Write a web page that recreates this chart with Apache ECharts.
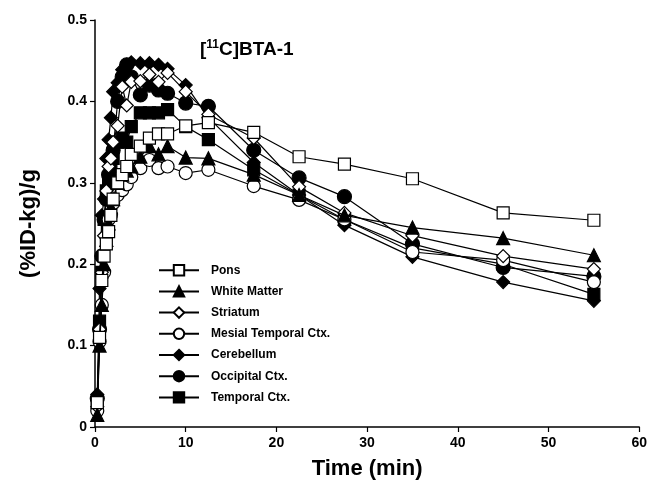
<!DOCTYPE html>
<html>
<head>
<meta charset="utf-8">
<script src="https://cdn.jsdelivr.net/npm/echarts@6/dist/echarts.min.js"></script>
<style>
  html, body { margin: 0; padding: 0; background: #fff; }
  #chart { width: 650px; height: 490px; }
</style>
</head>
<body>
<div id="chart"></div>
<script>
// sampling times (min)
var times = [0.25, 0.5, 0.75, 1, 1.25, 1.5, 1.75, 2, 2.5, 3, 3.5, 4, 5, 6, 7, 8, 10, 12.5, 17.5, 22.5, 27.5, 35, 45, 55];

var pons      = [0.03, 0.11, 0.18, 0.21, 0.225, 0.24, 0.26, 0.28, 0.30, 0.31, 0.32, 0.335, 0.345, 0.355, 0.36, 0.36, 0.37, 0.374, 0.362, 0.332, 0.323, 0.305, 0.263, 0.254];
var whiteMatter = [0.015, 0.10, 0.15, 0.20, 0.23, 0.25, 0.27, 0.28, 0.30, 0.31, 0.315, 0.32, 0.332, 0.345, 0.335, 0.345, 0.331, 0.33, 0.31, 0.285, 0.26, 0.245, 0.232, 0.211];
var striatum  = [0.025, 0.12, 0.19, 0.235, 0.29, 0.32, 0.33, 0.35, 0.37, 0.418, 0.395, 0.424, 0.425, 0.433, 0.424, 0.435, 0.412, 0.384, 0.355, 0.295, 0.263, 0.235, 0.21, 0.194];
var mesial    = [0.02, 0.105, 0.15, 0.19, 0.234, 0.255, 0.26, 0.275, 0.285, 0.291, 0.298, 0.307, 0.318, 0.328, 0.318, 0.32, 0.312, 0.316, 0.296, 0.279, 0.255, 0.215, 0.205, 0.178];
var cerebellum = [0.04, 0.17, 0.26, 0.28, 0.33, 0.353, 0.38, 0.412, 0.423, 0.439, 0.445, 0.448, 0.447, 0.447, 0.445, 0.44, 0.42, 0.38, 0.325, 0.285, 0.248, 0.209, 0.178, 0.155];
var occipital = [0.035, 0.12, 0.21, 0.255, 0.28, 0.31, 0.33, 0.34, 0.40, 0.43, 0.445, 0.43, 0.408, 0.42, 0.414, 0.41, 0.398, 0.394, 0.34, 0.306, 0.283, 0.225, 0.196, 0.185];
var temporal  = [0.03, 0.13, 0.19, 0.255, 0.29, 0.30, 0.32, 0.33, 0.35, 0.355, 0.35, 0.369, 0.386, 0.386, 0.386, 0.39, 0.369, 0.353, 0.316, 0.285, 0.255, 0.22, 0.2, 0.163];

var xTicks = [0, 10, 20, 30, 40, 50, 60];
var yTicks = [0, 0.1, 0.2, 0.3, 0.4, 0.5];

var names = ['Pons', 'White Matter', 'Striatum', 'Mesial Temporal Ctx.', 'Cerebellum', 'Occipital Ctx.', 'Temporal Ctx.'];
var values = [pons, whiteMatter, striatum, mesial, cerebellum, occipital, temporal];
var symbols = ['rect', 'triangle', 'diamond', 'circle', 'diamond', 'circle', 'rect'];
var filled = [false, true, false, false, true, true, true];
var sizes = [12, 13, 13, 13, 13, 14, 12];

function pairs(v) {
    var res = [];
    for (var i = 0; i < times.length; i++) {
        res.push([times[i], v[i]]);
    }
    return res;
}

var series = [];
for (var i = 0; i < names.length; i++) {
    series.push({
        name: names[i],
        type: 'line',
        data: pairs(values[i]),
        symbol: symbols[i],
        symbolSize: sizes[i],
        showAllSymbol: true,
        lineStyle: { color: '#000', width: 1.2 },
        itemStyle: {
            color: filled[i] ? '#000' : '#fff',
            borderColor: '#000',
            borderWidth: 1.2
        },
        z: 10 - i
    });
}

var axisFont = { color: '#000', fontFamily: 'Liberation Sans', fontWeight: 'bold', fontSize: 14 };

var chart = echarts.init(document.getElementById('chart'));
chart.setOption({
    animation: false,
    grid: { left: 95, right: 6, top: 20, bottom: 63 },
    title: {
        text: '[{sup|11}C]BTA-1',
        left: 195,
        top: 34,
        textStyle: {
            color: '#000', fontFamily: 'Liberation Sans', fontWeight: 'bold', fontSize: 19,
            rich: {
                sup: { color: '#000', fontFamily: 'Liberation Sans', fontWeight: 'bold', fontSize: 12, verticalAlign: 'top', padding: [0, 0, 9, 0] }
            }
        }
    },
    legend: {
        orient: 'vertical',
        left: 153,
        top: 259,
        itemWidth: 40,
        itemHeight: 13,
        itemGap: 8.8,
        data: names,
        textStyle: { color: '#000', fontFamily: 'Liberation Sans', fontWeight: 'bold', fontSize: 12, padding: [0, 0, 0, 7] }
    },
    xAxis: {
        type: 'value',
        min: 0,
        max: 60,
        interval: 10,
        name: 'Time (min)',
        nameLocation: 'middle',
        nameGap: 31,
        nameTextStyle: { color: '#000', fontFamily: 'Liberation Sans', fontWeight: 'bold', fontSize: 22 },
        axisLine: { lineStyle: { color: '#000', width: 1.5 } },
        axisTick: { lineStyle: { color: '#000', width: 1.2 }, length: 5 },
        axisLabel: Object.assign({ margin: 9 }, axisFont),
        splitLine: { show: false }
    },
    yAxis: {
        type: 'value',
        min: 0,
        max: 0.5,
        interval: 0.1,
        name: '(%ID-kg)/g',
        nameLocation: 'middle',
        nameGap: 55,
        nameRotate: 90,
        nameTextStyle: { color: '#000', fontFamily: 'Liberation Sans', fontWeight: 'bold', fontSize: 22 },
        axisLine: { show: true, lineStyle: { color: '#000', width: 1.5 } },
        axisTick: { show: true, lineStyle: { color: '#000', width: 1.2 }, length: 5 },
        axisLabel: Object.assign({ margin: 8, formatter: function (v) { return String(+v.toFixed(1)); } }, axisFont),
        splitLine: { show: false }
    },
    series: series
});
</script>
</body>
</html>
